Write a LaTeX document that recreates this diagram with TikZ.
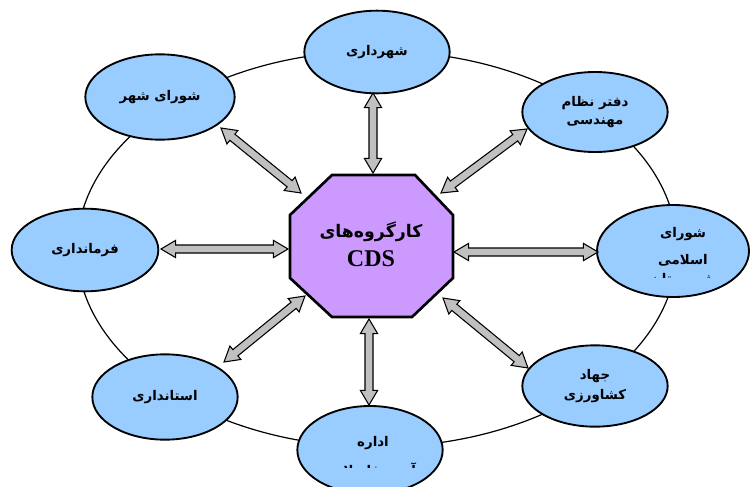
\documentclass[tikz,border=0pt]{standalone}
\usepackage{fontspec}
\setmainfont{Liberation Serif}
\newfontfamily\arfont[Script=Arabic]{DejaVu Sans}
\TeXXeTstate=1
\usetikzlibrary{shapes.geometric,calc}
\definecolor{orgblue}{RGB}{153,204,255}
\definecolor{cdsviolet}{RGB}{204,153,255}
\definecolor{arrowgray}{RGB}{192,192,192}
\newcommand{\fa}[1]{\beginR #1\endR}
% two-headed block arrow between two named points
\newcommand{\biarrow}[2]{%
  \path[draw=black, fill=arrowgray, line width=0.8pt, line join=miter]
    let \p1 = ($(#2)-(#1)$), \n2 = {atan2(\y1,\x1)} in
    (#1) -- ($(#1)+(\n2:11pt)+(\n2+90:6.5pt)$) -- ($(#1)+(\n2:11pt)+(\n2+90:3pt)$)
    -- ($(#2)+(\n2+180:11pt)+(\n2+90:3pt)$) -- ($(#2)+(\n2+180:11pt)+(\n2+90:6.5pt)$)
    -- (#2) -- ($(#2)+(\n2+180:11pt)+(\n2-90:6.5pt)$) -- ($(#2)+(\n2+180:11pt)+(\n2-90:3pt)$)
    -- ($(#1)+(\n2:11pt)+(\n2-90:3pt)$) -- ($(#1)+(\n2:11pt)+(\n2-90:6.5pt)$) -- cycle;}
\tikzset{
  org/.style={ellipse, draw, line width=1.4pt, fill=orgblue, minimum width=109pt, minimum height=62pt,
    inner sep=0pt, align=center, font=\arfont\bfseries\fontsize{10}{15}\selectfont},
  lbl/.style={inner sep=0pt, align=center, font=\arfont\bfseries\fontsize{10}{15}\selectfont},
  ring/.style={line width=0.9pt},
  octa/.style={draw, line width=2pt, fill=cdsviolet, line join=miter}
}
\begin{document}
\begin{tikzpicture}[x=0.75pt, y=-0.75pt]
	\useasboundingbox (0,0) rectangle (753,486);
	\clip (0,0) rectangle (753,486);
	\draw[ring] (377,249) ellipse [x radius=225pt, y radius=148.5pt];

	\node[org] (shahrdari) at (377,52) {\fa{شهرداری}};
	\node[org, minimum width=112pt, minimum height=64pt] (shoraShahr) at (160,97) {\raisebox{3pt}{\fa{شورای شهر}}};
	\node[org, minimum width=110pt] (farmandari) at (85,250) {\fa{فرمانداری}};
	\node[org, minimum height=64pt] (ostandari) at (165,397) {\fa{استانداری}};
	\node[org, minimum height=66pt] (edare) at (370,450) {};
	\node[org, minimum height=61pt] (jahad) at (595,386) {\fa{جهاد}\\\fa{کشاورزی}};
	\node[org, minimum width=114pt, minimum height=69pt] (shoraIslami) at (673,251) {};
	\node[org, minimum height=60pt] (nezam) at (595,112) {\fa{دفتر نظام}\\[-1.5pt]\fa{مهندسی}};

	\node[lbl, anchor=base] (edareT) at (373,446) {\fa{اداره}};
	\node[lbl, font=\arfont\bfseries\fontsize{10}{20}\selectfont] (shoraIslamiT) at (683,247) {\fa{شورای}\\\fa{اسلامی}};
	\begin{scope}
		\clip (290,400) rectangle (450,467);
		\node[lbl, anchor=base] (edareT2) at (373,475) {\fa{آب و فاضلاب}};
	\end{scope}
	\begin{scope}
		\clip (600,200) rectangle (753,277);
		\node[lbl, anchor=base] (shoraIslamiT2) at (683,283) {\fa{شهرستان}};
	\end{scope}

	\draw[octa] (332,175) -- (415,175) -- (453,215) -- (453,278) -- (412,317) -- (332,317) -- (290,278) -- (290,215) -- cycle;
	\node[font=\bfseries\fontsize{18}{22}\selectfont, align=center] (cds) at (371,244) {{\arfont\fontsize{13}{22}\selectfont\fa{کارگروه‌های}}\\CDS};

	\coordinate (upA) at (373,93);   \coordinate (upB) at (373,173);
	\coordinate (dnA) at (369,319);  \coordinate (dnB) at (369,405);
	\coordinate (lfA) at (161,249);  \coordinate (lfB) at (288,249);
	\coordinate (rtA) at (454,252);  \coordinate (rtB) at (598,252);
	\coordinate (ulA) at (221,128);  \coordinate (ulB) at (301,193);
	\coordinate (urA) at (441,193);  \coordinate (urB) at (527,129);
	\coordinate (llA) at (305,296);  \coordinate (llB) at (224,362);
	\coordinate (lrA) at (443,298);  \coordinate (lrB) at (528,368);
	\biarrow{upA}{upB}
	\biarrow{dnA}{dnB}
	\biarrow{lfA}{lfB}
	\biarrow{rtA}{rtB}
	\biarrow{ulA}{ulB}
	\biarrow{urA}{urB}
	\biarrow{llA}{llB}
	\biarrow{lrA}{lrB}
\end{tikzpicture}
\end{document}
